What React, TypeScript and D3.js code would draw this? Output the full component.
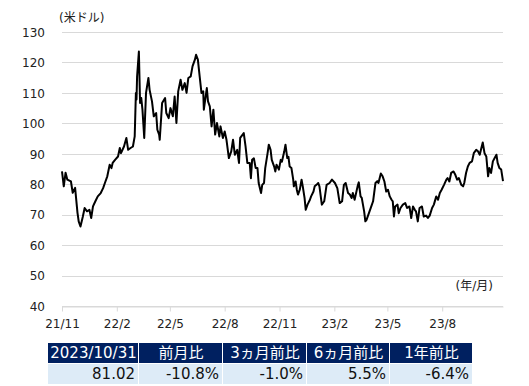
import { useEffect, useRef } from "react";
import * as d3 from "d3";

// [days since 2021/11/1, USD]
const priceSeries: [number, number][] = [
  [0, 84.2], [3, 79.3], [6, 83.8], [9, 81.5], [15, 80.9], [18, 77.2], [22, 78.8], [26, 70.6],
  [28, 67.8], [31, 66.1], [35, 69.4], [38, 72.2], [42, 71.1], [46, 71.6], [49, 68.9], [52, 72.7],
  [56, 74.4], [60, 76], [65, 77.1], [69, 78.7], [72, 80.4], [76, 82.6], [80, 86.4], [83, 85.3],
  [85, 87], [89, 88], [94, 89.1], [97, 91.9], [99, 90.2], [104, 92.4], [108, 95.2], [111, 91.3],
  [115, 91.9], [119, 92.4], [122, 95.7], [124, 110], [125, 107.8], [126, 115.4], [129, 123.6],
  [131, 106.7], [133, 108.3], [135, 104.5], [138, 95.2], [141, 110], [145, 114.9], [147, 111],
  [151, 107.2], [154, 102.3], [158, 103.4], [160, 97.9], [163, 96.3], [164, 94.6], [168, 106.7],
  [173, 108.3], [175, 103.4], [179, 101.7], [182, 105], [186, 102.3], [189, 108.8], [192, 100.1],
  [195, 110.5], [199, 114.3], [202, 111], [206, 113.2], [209, 110], [212, 114.9], [216, 115.4],
  [219, 118.7], [223, 120.9], [225, 122.5], [228, 120.9], [231, 115.4], [234, 110], [237, 110.5],
  [238, 104.5], [243, 111.6], [245, 107.2], [248, 105.6], [251, 99], [254, 104.5], [257, 96.3],
  [260, 100.1], [264, 95.7], [266, 99], [270, 95.2], [273, 97.3], [276, 94.6], [280, 88.6],
  [284, 90.8], [287, 94.6], [290, 89.7], [294, 91.3], [297, 87], [299, 95.2], [305, 96.8],
  [308, 92.4], [311, 87], [315, 87], [317, 82], [319, 88], [322, 88.5], [325, 85.3], [328, 85.3],
  [330, 80.4], [334, 77.1], [336, 79.8], [339, 80.4], [341, 85.3], [345, 90.2], [347, 93],
  [350, 91.3], [352, 88], [356, 85.8], [358, 84.2], [360, 86.4], [364, 84.8], [367, 88],
  [369, 87.4], [373, 90.8], [375, 93], [378, 88.6], [380, 89], [382, 85.8], [385, 85.3],
  [388, 81.5], [389, 79.3], [392, 80.9], [394, 78.2], [396, 76.6], [399, 78.2], [402, 81.5],
  [404, 79.3], [407, 75.5], [409, 71.6], [412, 73.3], [416, 74.9], [418, 76], [422, 77.6],
  [424, 79.3], [427, 79.8], [430, 80.4], [432, 79.3], [436, 73.3], [440, 74.4], [444, 79.8],
  [449, 80.4], [453, 81.5], [458, 80.4], [462, 78.7], [466, 73.8], [470, 74.4], [473, 79.8],
  [476, 80.4], [480, 77.1], [483, 76.6], [486, 75.5], [488, 77.1], [491, 74.9], [496, 79.3],
  [498, 80.6], [501, 76], [503, 75.5], [507, 71.1], [509, 67.8], [511, 68.3], [515, 70.5],
  [519, 72.7], [522, 74.4], [526, 80.4], [529, 81], [531, 80.4], [535, 83.5], [538, 82.6],
  [541, 80.9], [544, 77.6], [547, 78.2], [550, 76], [553, 74.9], [555, 74.4], [557, 69.4],
  [559, 72.7], [563, 73.3], [565, 70.5], [568, 72.2], [572, 73.3], [576, 73.8], [579, 72.2],
  [583, 72.7], [586, 68.9], [589, 72.7], [592, 71.6], [594, 71.1], [597, 67.8], [600, 72.2],
  [604, 72.7], [607, 69.4], [611, 69.7], [614, 68.9], [617, 69.7], [621, 72.2], [624, 73.3],
  [628, 76], [631, 74.9], [634, 77.1], [637, 78.2], [641, 79.8], [645, 81.5], [647, 82],
  [650, 80.9], [653, 83.7], [657, 84.2], [660, 83.1], [663, 81.5], [666, 82], [670, 79.8],
  [673, 79.3], [675, 80.4], [678, 83.7], [681, 85.8], [684, 87], [688, 87.5], [691, 90.2],
  [695, 91.3], [698, 90.8], [701, 89.7], [703, 91.3], [706, 93.7], [709, 90.2], [712, 89.1],
  [715, 82.6], [717, 85.3], [720, 83.7], [723, 87.5], [726, 88.6], [729, 89.7], [731, 87],
  [734, 85.3], [737, 84.8], [740, 81.02],
];

const xTickLabels = ["21/11", "22/2", "22/5", "22/8", "22/11", "23/2", "23/5", "23/8"];
const yTicks = [40, 50, 60, 70, 80, 90, 100, 110, 120, 130];

const tableHeaders = ["2023/10/31", "前月比", "3ヵ月前比", "6ヵ月前比", "1年前比"];
const tableValues = ["81.02", "-10.8%", "-1.0%", "5.5%", "-6.4%"];

const W = 529;
const H = 386;
const FONT = "'DejaVu Sans', 'Noto Sans CJK JP', sans-serif";

const Chart = () => {
  const svgRef = useRef<SVGSVGElement | null>(null);

  useEffect(() => {
    const svg = d3.select(svgRef.current);
    svg.selectAll("*").remove();

    const left = 62;
    const right = 503;
    const top = 32;
    const bottom = 306;

    const start = new Date(2021, 10, 1);
    const lastDay = d3.max(priceSeries, (d) => d[0]) as number;
    const x = d3
      .scaleTime()
      .domain([start, d3.timeDay.offset(start, lastDay)])
      .range([left, right]);
    const y = d3.scaleLinear().domain([40, 130]).range([bottom, top]);

    const parseTick = d3.timeParse("%y/%m");
    const tickDates = xTickLabels.map((s) => parseTick(s) as Date);

    // grid
    svg
      .append("g")
      .selectAll("line")
      .data(yTicks)
      .enter()
      .append("line")
      .attr("x1", left)
      .attr("x2", right)
      .attr("y1", (d) => Math.round(y(d)) + 0.5)
      .attr("y2", (d) => Math.round(y(d)) + 0.5)
      .attr("stroke", "#d9d9d9")
      .attr("stroke-width", 1);

    const yAxis = d3.axisLeft(y).tickValues(yTicks).tickSize(0).tickPadding(0);
    const gy = svg.append("g").attr("transform", `translate(45,0)`).call(yAxis);
    gy.select(".domain").remove();
    gy.selectAll("text")
      .attr("font-family", FONT)
      .attr("font-size", 12)
      .attr("fill", "#222")
      .attr("dy", "0.36em");

    const xAxis = d3
      .axisBottom(x)
      .tickValues(tickDates)
      .tickFormat((d, i) => xTickLabels[i])
      .tickSize(5)
      .tickSizeOuter(0)
      .tickPadding(8);
    const gx = svg
      .append("g")
      .attr("transform", `translate(0,${Math.round(y(40)) + 0.5})`)
      .call(xAxis);
    gx.select(".domain").attr("stroke", "#d9d9d9");
    gx.selectAll(".tick line").attr("stroke", "#d9d9d9");
    gx.selectAll("text")
      .attr("font-family", FONT)
      .attr("font-size", 12)
      .attr("fill", "#222");

    const line = d3
      .line<[number, number]>()
      .x((d) => x(d3.timeDay.offset(start, d[0])))
      .y((d) => y(d[1]));
    svg
      .append("path")
      .datum(priceSeries)
      .attr("d", line)
      .attr("fill", "none")
      .attr("stroke", "#000")
      .attr("stroke-width", 2)
      .attr("stroke-linejoin", "round");

    svg
      .append("text")
      .attr("x", 59)
      .attr("y", 22)
      .attr("font-family", FONT)
      .attr("font-size", 12)
      .attr("fill", "#222")
      .text("(米ドル)");
    svg
      .append("text")
      .attr("x", 493)
      .attr("y", 290)
      .attr("text-anchor", "end")
      .attr("font-family", FONT)
      .attr("font-size", 12)
      .attr("fill", "#222")
      .text("(年/月)");

    // table
    const colEdges = [48, 139, 223, 307, 390, 473];
    const rowTop = [343, 364];
    const rowH = 20;
    const cells = svg.append("g");
    tableHeaders.forEach((h, i) => {
      const x0 = colEdges[i];
      const x1 = colEdges[i + 1];
      cells
        .append("rect")
        .attr("x", x0)
        .attr("y", rowTop[0])
        .attr("width", x1 - x0 - 1)
        .attr("height", rowH)
        .attr("fill", "#002060");
      cells
        .append("text")
        .attr("x", (x0 + x1) / 2)
        .attr("y", rowTop[0] + rowH / 2)
        .attr("dy", "0.36em")
        .attr("text-anchor", "middle")
        .attr("font-family", FONT)
        .attr("font-size", 15)
        .attr("fill", "#fff")
        .text(h);
      cells
        .append("rect")
        .attr("x", x0)
        .attr("y", rowTop[1])
        .attr("width", x1 - x0 - 1)
        .attr("height", rowH)
        .attr("fill", "#ddebf7");
      cells
        .append("text")
        .attr("x", x1 - 4)
        .attr("y", rowTop[1] + rowH / 2)
        .attr("dy", "0.36em")
        .attr("text-anchor", "end")
        .attr("font-family", FONT)
        .attr("font-size", 15)
        .attr("fill", "#111")
        .text(tableValues[i]);
    });
  }, []);

  return (
    <svg
      ref={svgRef}
      width={W}
      height={H}
      style={{ position: "absolute", left: 0, top: 0, background: "#fff" }}
    ></svg>
  );
};

export default function App() {
  return <Chart />;
}
